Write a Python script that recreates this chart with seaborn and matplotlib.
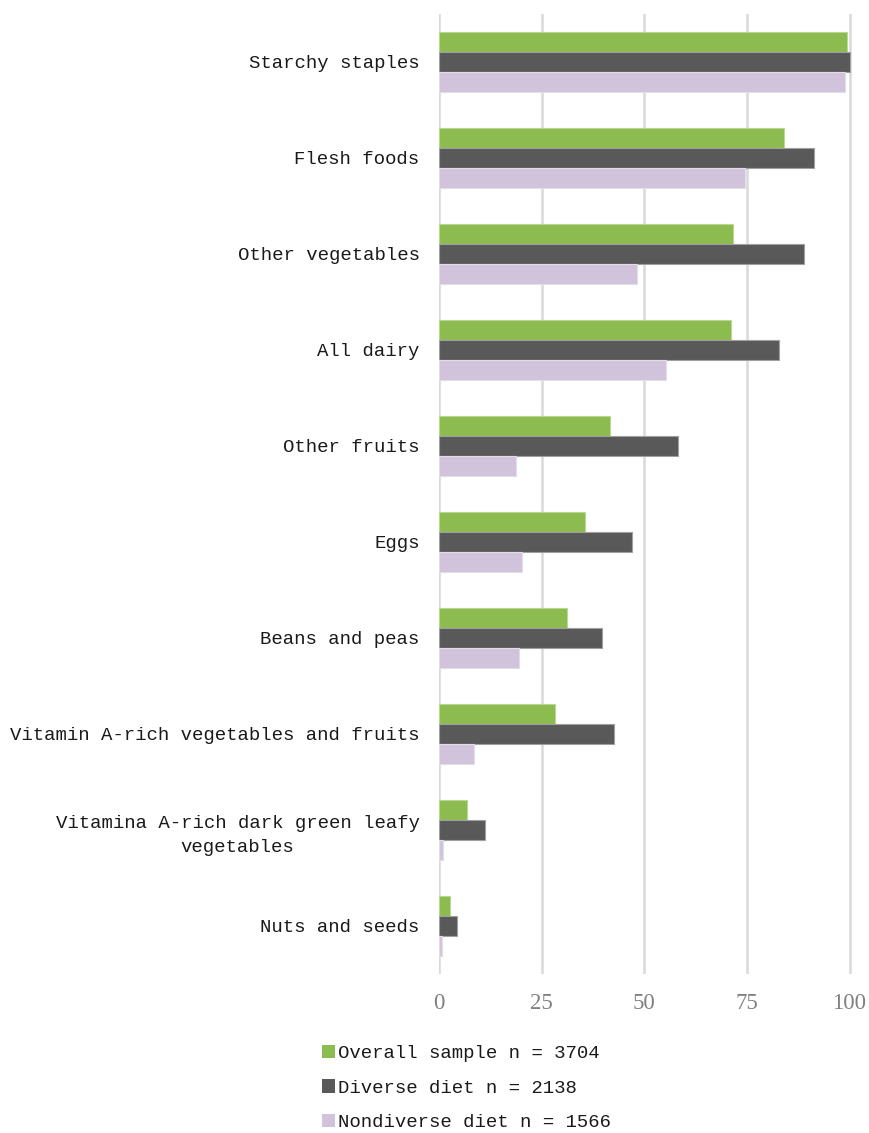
import matplotlib
matplotlib.use("Agg")
import matplotlib.pyplot as plt
import seaborn as sns
import pandas as pd
from matplotlib.patches import Patch

categories = [
    "Starchy staples",
    "Flesh foods",
    "Other vegetables",
    "All dairy",
    "Other fruits",
    "Eggs",
    "Beans and peas",
    "Vitamin A-rich vegetables and fruits",
    "Vitamina A-rich dark green leafy\nvegetables",
    "Nuts and seeds",
]
series_names = [
    "Overall sample n = 3704",
    "Diverse diet n = 2138",
    "Nondiverse diet n = 1566",
]
overall = [99.5, 84.1, 71.6, 71.2, 41.6, 35.6, 31.2, 28.2, 6.8, 2.8]
diverse = [100.0, 91.3, 88.8, 82.7, 58.3, 47.0, 39.7, 42.6, 11.1, 4.5]
nondiverse = [99.0, 74.5, 48.2, 55.3, 18.8, 20.1, 19.6, 8.5, 0.9, 0.7]
xticks = [0, 25, 50, 75, 100]

colors = ["#8CBB4F", "#595959", "#D0C3DB"]
edges = ["#B8D98E", "#A0A0A0", "#E4DCEB"]

rows = []
for name, vals in zip(series_names, [overall, diverse, nondiverse]):
    for c, v in zip(categories, vals):
        rows.append({"category": c, "series": name, "value": v})
df = pd.DataFrame(rows)

sns.set_theme(style="white")
plt.rcParams["font.family"] = ["Liberation Mono", "DejaVu Sans Mono"]

fig = plt.figure(figsize=(8.7, 11.33), dpi=100)
ax = fig.add_axes([439 / 870, 1 - 974 / 1133, (852 - 439) / 870, (974 - 14) / 1133])

sns.barplot(data=df, y="category", x="value", hue="series", order=categories,
            hue_order=series_names, palette=colors, orient="h", width=0.625,
            ax=ax, legend=False, linewidth=0, saturation=1)

for cont, ec in zip(ax.containers, edges):
    for p in cont.patches:
        p.set_edgecolor(ec)
        p.set_linewidth(0.8)

ax.set_xlim(0, 100.6)
ax.set_ylim(len(categories) - 0.5, -0.5)
ax.set_xticks(xticks)
ax.set_xticklabels([str(t) for t in xticks], fontfamily="Liberation Serif",
                   fontsize=16.5, color="#808080")
ax.set_yticks(range(len(categories)))
ax.set_yticklabels(categories, fontsize=13.7, color="#1a1a1a",
                   multialignment="center", linespacing=1.55)
ax.tick_params(axis="x", length=0, pad=14)
ax.tick_params(axis="y", length=0, pad=14)
ax.set_xlabel("")
ax.set_ylabel("")
ax.grid(axis="x", color="#D9D9D9", linewidth=1.8)
ax.grid(axis="y", visible=False)
ax.set_axisbelow(True)
for s in ax.spines.values():
    s.set_visible(False)

handles = [Patch(facecolor=c, edgecolor="none") for c in colors]
fig.legend(handles, series_names, loc="upper left",
           bbox_to_anchor=(322 / 870, 1 - 1045 / 1133), frameon=False,
           fontsize=13.7, handlelength=0.7, handleheight=0.7, handletextpad=0.15,
           labelspacing=0.9, borderpad=0, borderaxespad=0, labelcolor="#1a1a1a")

fig.savefig("out.png", dpi=100, facecolor="white")
